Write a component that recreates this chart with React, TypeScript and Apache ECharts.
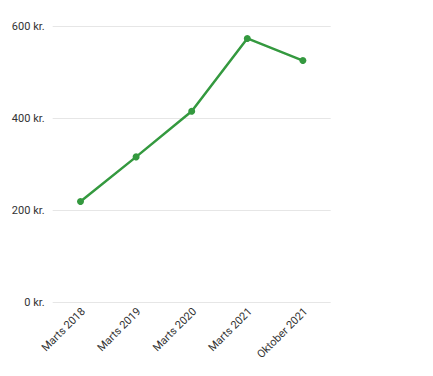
import React, { useEffect, useRef } from "react";
import * as echarts from "echarts";

const categories = ["Marts 2018", "Marts 2019", "Marts 2020", "Marts 2021", "Oktober 2021"];
const values = [219, 316, 415, 573, 525];
const yTicks = { min: 0, max: 600, interval: 200 };

export default function App() {
  const ref = useRef<HTMLDivElement>(null);
  useEffect(() => {
    if (!ref.current) return;
    const chart = echarts.init(ref.current, undefined, { renderer: "svg" });
    chart.setOption({
      animation: false,
      grid: { left: 44.7, right: 94.3, top: 18, bottom: 65.5, containLabel: false },
      xAxis: {
        type: "category",
        data: categories,
        boundaryGap: true,
        axisLine: { show: false },
        axisTick: { show: false },
        axisLabel: {
          rotate: 45,
          margin: 10,
          interval: 0,
          color: "#333",
          fontSize: 11,
          fontFamily: "Roboto, sans-serif",
          padding: [0, -4, 0, 0],
        },
      },
      yAxis: {
        type: "value",
        min: yTicks.min,
        max: yTicks.max,
        interval: yTicks.interval,
        axisLine: { show: false },
        axisTick: { show: false },
        splitLine: { lineStyle: { color: "#e6e6e6", width: 1 } },
        axisLabel: {
          margin: 8,
          color: "#333",
          fontSize: 11,
          fontFamily: "Roboto, sans-serif",
          formatter: (v: number) => `${v} kr.`,
        },
      },
      series: [
        {
          type: "line",
          data: values,
          symbol: "circle",
          symbolSize: 7,
          showSymbol: true,
          lineStyle: { color: "#34993f", width: 2.5 },
          itemStyle: { color: "#34993f" },
        },
      ],
    });
    return () => chart.dispose();
  }, []);
  return <div ref={ref} style={{ width: 417, height: 360 }} />;
}
